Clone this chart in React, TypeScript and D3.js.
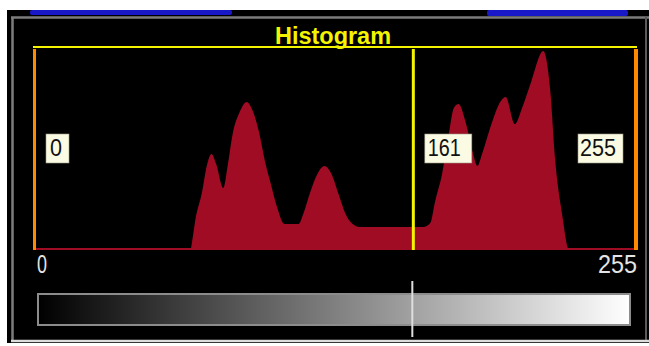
import React from "react";
import * as d3 from "d3";

// Histogram samples (grey level, relative count 0..100)
const levels = [0, 66, 67, 68, 71, 73, 75, 77, 80, 82, 84, 87, 90, 92, 95, 98, 100, 103, 106, 112, 114, 117, 120, 123, 126, 129, 132, 135, 138, 165, 168, 170, 173, 176, 178, 180, 183, 186, 188, 190, 194, 198, 200, 204, 207, 211, 216, 219, 221, 224, 227, 255];
const counts = [0, 0, 6, 14, 29, 42, 48, 43, 31, 43, 58, 69, 74, 71, 60, 43, 34, 21, 13, 13, 18, 29, 38, 42, 38, 28, 18, 13, 11.5, 11.5, 13.5, 24, 38, 59, 71, 73, 64, 49, 42, 48, 63, 74.5, 76.5, 63, 71, 84.5, 99.5, 79.5, 46, 18, 0, 0];

const markerValues = [0, 161, 255];
const markerLabels = ["0", "161", "255"];
const axisLabels = ["0", "255"];
const title = "Histogram";

export default function App() {
  const W = 649, H = 346;
  const x = d3.scaleLinear().domain([0, 255]).range([35, 635]);
  const y = d3.scaleLinear().domain([0, 100]).range([250, 50]);
  const data = levels.map((l, i) => ({ l, c: counts[i] }));
  const area = d3
    .area<{ l: number; c: number }>()
    .x((d) => x(d.l))
    .y0(y(0))
    .y1((d) => y(d.c))
    .curve(d3.curveMonotoneX);

  const font = "'Liberation Sans', Arial, sans-serif";
  const red = "#a00c24";
  const orange = "#ff8a00";
  const yellow = "#f4f400";

  // label boxes: [box left, box width, text left, text length]
  const boxW = [23, 47, 45];
  const textOff = [4, 3, 2];
  const textLen = [12, 33, 36];
  const boxLeft = (i: number) =>
    i === 2 ? x(markerValues[i]) - 12 - boxW[i] : x(markerValues[i]) + 11;

  return (
    <svg
      width={W}
      height={H}
      style={{ position: "absolute", left: 0, top: 0, display: "block" }}
    >
      <defs>
        <linearGradient id="gray" x1="0" x2="1" y1="0" y2="0">
          <stop offset="0" stopColor="#000" />
          <stop offset="1" stopColor="#fff" />
        </linearGradient>
      </defs>
      <rect x={0} y={0} width={W} height={H} fill="#fff" />
      <rect x={7} y={10} width={642} height={333} fill="#000" />
      {/* blue tabs on top */}
      <rect x={30} y={10} width={202} height={5} rx={2} fill="#1818c8" />
      <rect x={487} y={10} width={141} height={6} rx={2} fill="#1818c8" />
      {/* sunken frame */}
      <line x1={11} x2={649} y1={17.5} y2={17.5} stroke="#7c7c7c" strokeWidth={2.5} />
      <line x1={12.5} x2={12.5} y1={17} y2={341} stroke="#7c7c7c" strokeWidth={2.5} />
      <line x1={646} x2={646} y1={17} y2={341} stroke="#5a5a5a" strokeWidth={2} />
      <line x1={11} x2={649} y1={341} y2={341} stroke="#dcdcdc" strokeWidth={2.5} />

      {/* title */}
      <text
        x={333}
        y={44}
        textAnchor="middle"
        fontFamily={font}
        fontWeight="bold"
        fontSize={24}
        fill={yellow}
        textLength={116}
        lengthAdjust="spacingAndGlyphs"
      >
        {title}
      </text>
      <line x1={33} x2={637} y1={47} y2={47} stroke={yellow} strokeWidth={2} />

      {/* histogram */}
      <path d={area(data) || ""} fill={red} />
      <line x1={x(0)} x2={x(255)} y1={249} y2={249} stroke={red} strokeWidth={2} />

      {/* range markers */}
      <line x1={x(0) - 0.5} x2={x(0) - 0.5} y1={49} y2={250} stroke={orange} strokeWidth={3} />
      <line x1={x(255) + 1} x2={x(255) + 1} y1={49} y2={250} stroke={orange} strokeWidth={4} />
      <line x1={x(161) - 0.5} x2={x(161) - 0.5} y1={49} y2={250} stroke={yellow} strokeWidth={3} />

      {markerLabels.map((t, i) => (
        <g key={t}>
          <rect x={boxLeft(i)} y={134} width={boxW[i]} height={29} fill="#fbfbe4" stroke="#9a9a88" strokeWidth={0.6} />
          <text
            x={boxLeft(i) + textOff[i]}
            y={156}
            fontFamily={font}
            fontSize={23}
            fill="#111"
            textLength={textLen[i]}
            lengthAdjust="spacingAndGlyphs"
          >
            {t}
          </text>
        </g>
      ))}

      {/* axis labels */}
      <text x={x(0) + 2} y={273} fontFamily={font} fontSize={25} fill="#e4e4e4" textLength={10} lengthAdjust="spacingAndGlyphs">
        {axisLabels[0]}
      </text>
      <text x={x(255) - 37} y={273} fontFamily={font} fontSize={25} fill="#e4e4e4" textLength={39} lengthAdjust="spacingAndGlyphs">
        {axisLabels[1]}
      </text>

      {/* grey ramp */}
      <rect x={38} y={294} width={592} height={31} fill="url(#gray)" stroke="#8c8c8c" strokeWidth={2} />
      <line x1={x(161) - 1.5} x2={x(161) - 1.5} y1={281} y2={337} stroke="#dedede" strokeWidth={2} />
    </svg>
  );
}
